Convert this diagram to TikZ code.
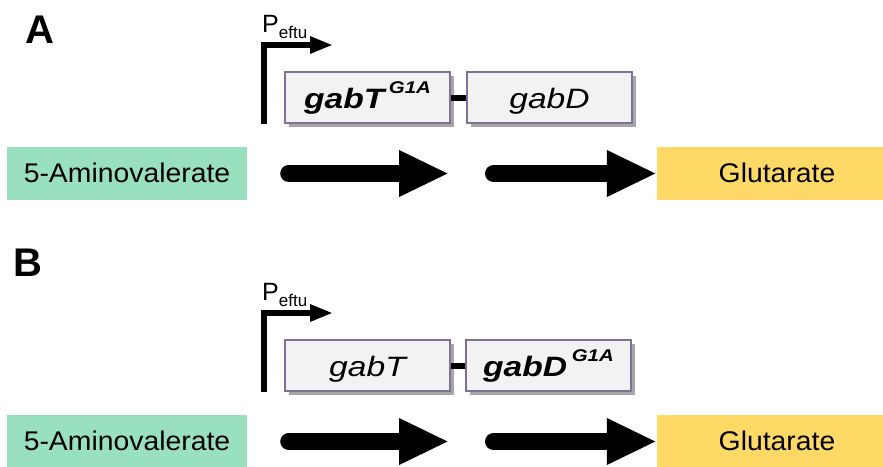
\documentclass[tikz,border=0pt]{standalone}
\usepackage{fontspec}
\setmainfont{Liberation Sans}
\newfontfamily\genefont{Liberation Sans}[FakeStretch=1.2]
\newfontfamily\metfont{Liberation Sans}[FakeStretch=1.05]
\usetikzlibrary{arrows.meta,shadows}
\definecolor{amvgreen}{RGB}{152,224,190}
\definecolor{glugold}{RGB}{255,217,102}
\definecolor{genefill}{RGB}{242,242,242}
\definecolor{genedraw}{RGB}{128,112,150}
\newcommand{\mutG}{\,\raisebox{15pt}{\fontsize{17}{17}\selectfont G1A}}
\newcommand{\peftu}{P\raisebox{-6pt}{\fontsize{17}{17}\selectfont eftu}}

\begin{document}
\begin{tikzpicture}[x=1pt,y=-1pt,
  metab/.style={minimum width=240pt,minimum height=53pt,inner sep=0pt,
    text height=19pt,text depth=2pt,font=\metfont\fontsize{27}{30}\selectfont},
  gene/.style={draw=genedraw,fill=genefill,line width=1.2pt,minimum width=165pt,
    minimum height=51pt,inner sep=0pt,text height=27pt,text depth=6pt,
    font=\genefont\fontsize{28}{30}\selectfont\itshape,
    drop shadow={shadow xshift=4pt,shadow yshift=-4pt,fill=black!35,opacity=1}},
  rxn/.style={line width=17pt,line cap=round,-{Triangle[length=50pt,width=43pt]}},
  prom/.style={line width=6pt,-{Triangle[length=23pt,width=16pt]}},
  promtext/.style={anchor=base west,inner sep=0pt,font=\fontsize{25}{25}\selectfont},
  link/.style={line width=6pt},
  panel/.style={anchor=base west,inner sep=0pt,font=\fontsize{40}{40}\selectfont\bfseries}]
\useasboundingbox (0,0) rectangle (883,466);

% Panel A
\node[panel] (labA) at (25,43) {A};

% Promoter
\coordinate (pA) at (264,124);
\coordinate (pAtip) at (333,45);
\draw[prom] (pA) |- (pAtip);
\node[promtext] (peftuA) at (262,32) {\peftu};

% Operon
\node[gene] (gabTA) at (367.5,97.5) {\bfseries gabT\mutG};
\node[gene] (gabDA) at (549.5,97.5) {gabD};
\draw[link] (gabTA) -- (gabDA);

% Pathway
\node[metab,fill=amvgreen] (amvA) at (127,173.5) {5-Aminovalerate};
\node[metab,fill=glugold] (gluA) at (777,173.5) {Glutarate};
\coordinate (midA) at (467,173.5);
\draw[rxn] ([xshift=41.5pt]amvA.east) -- ([xshift=-18pt]midA);
\draw[rxn] ([xshift=26.5pt]midA) -- (gluA.west);

% Panel B
\node[panel] (labB) at (13,276) {B};

% Promoter
\coordinate (pB) at (264,392);
\coordinate (pBtip) at (333,313);
\draw[prom] (pB) |- (pBtip);
\node[promtext] (peftuB) at (262,300) {\peftu};

% Operon
\node[gene] (gabTB) at (367.5,365.5) {gabT};
\node[gene] (gabDB) at (548.5,365.5) {\bfseries gabD\mutG};
\draw[link] (gabTB) -- (gabDB);

% Pathway
\node[metab,fill=amvgreen] (amvB) at (127,441.5) {5-Aminovalerate};
\node[metab,fill=glugold] (gluB) at (777,441.5) {Glutarate};
\coordinate (midB) at (467,441.5);
\draw[rxn] ([xshift=41.5pt]amvB.east) -- ([xshift=-18pt]midB);
\draw[rxn] ([xshift=26.5pt]midB) -- (gluB.west);
\end{tikzpicture}
\end{document}
